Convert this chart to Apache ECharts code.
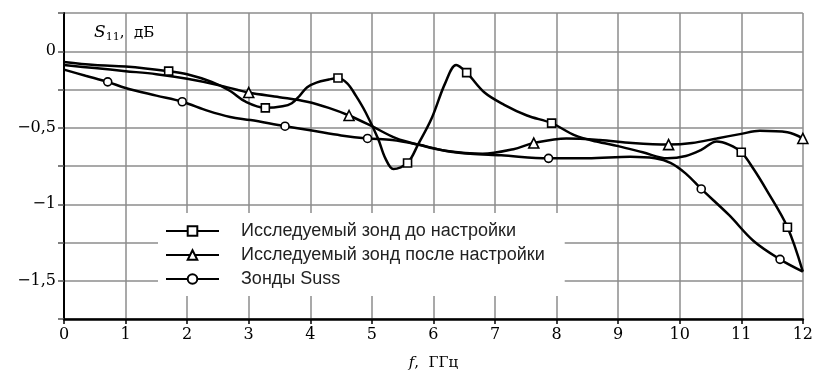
<!DOCTYPE html>
<html>
<head>
<meta charset="utf-8">
<script src="https://cdn.jsdelivr.net/npm/echarts@6/dist/echarts.min.js"></script>
<style>html,body{margin:0;padding:0;background:#fff;}#c{width:816px;height:376px;}</style>
</head>
<body>
<div id="c"></div>
<script>
// Series 1: Исследуемый зонд до настройки (squares)
const f1 = [0, 0.5, 1.0, 1.7, 2.0, 2.4, 2.7, 2.95, 3.27, 3.55, 3.7, 3.83, 3.95, 4.1, 4.3, 4.45, 4.6, 4.74, 4.9, 5.1, 5.22, 5.35, 5.58, 5.75, 5.97, 6.19, 6.37, 6.54, 6.83, 7.15, 7.52, 7.92, 8.3, 8.65, 9.0, 9.4, 9.8, 10.1, 10.35, 10.6, 10.8, 11.0, 11.2, 11.4, 11.75, 12];
const v1 = [-0.07, -0.09, -0.10, -0.13, -0.15, -0.20, -0.26, -0.33, -0.37, -0.36, -0.34, -0.29, -0.235, -0.205, -0.185, -0.175, -0.21, -0.29, -0.40, -0.57, -0.70, -0.77, -0.73, -0.61, -0.44, -0.21, -0.09, -0.14, -0.27, -0.35, -0.42, -0.47, -0.55, -0.59, -0.62, -0.66, -0.70, -0.685, -0.645, -0.59, -0.61, -0.66, -0.77, -0.90, -1.15, -1.44];
const m1 = [1.7, 3.27, 4.45, 5.58, 6.54, 7.92, 11.0, 11.75];

// Series 2: Исследуемый зонд после настройки (triangles)
const f2 = [0, 0.5, 1.0, 1.5, 2.0, 2.5, 3.0, 3.5, 3.95, 4.3, 4.63, 5.0, 5.4, 5.75, 6.19, 6.8, 7.3, 7.63, 8.16, 8.7, 9.23, 9.82, 10.2, 10.6, 11.0, 11.3, 11.75, 12];
const v2 = [-0.09, -0.11, -0.13, -0.15, -0.18, -0.22, -0.27, -0.30, -0.33, -0.37, -0.42, -0.49, -0.57, -0.61, -0.65, -0.67, -0.64, -0.60, -0.57, -0.58, -0.60, -0.61, -0.60, -0.57, -0.54, -0.52, -0.53, -0.57];
const m2 = [3.0, 4.63, 7.63, 9.82, 12];

// Series 3: Зонды Suss (circles)
const f3 = [0, 0.35, 0.71, 1.0, 1.5, 1.92, 2.34, 2.7, 3.03, 3.59, 4.05, 4.5, 4.93, 5.33, 5.75, 6.19, 6.6, 7.1, 7.87, 8.5, 9.2, 9.6, 9.85, 10.1, 10.35, 10.8, 11.2, 11.63, 12];
const v3 = [-0.12, -0.16, -0.20, -0.24, -0.29, -0.33, -0.39, -0.43, -0.45, -0.49, -0.52, -0.55, -0.57, -0.58, -0.61, -0.65, -0.67, -0.68, -0.70, -0.70, -0.69, -0.70, -0.73, -0.80, -0.90, -1.07, -1.24, -1.36, -1.44];
const m3 = [0.71, 1.92, 3.59, 4.93, 7.87, 10.35, 11.63];

const names = ['Исследуемый зонд до настройки', 'Исследуемый зонд после настройки', 'Зонды Suss'];

function build(f, v, m, sym) {
  return f.map((x, i) => ({ value: [x, v[i]], symbol: m.indexOf(x) >= 0 ? sym : 'none' }));
}

function mkSeries(name, f, v, m, sym, size) {
  return {
    name: name, type: 'line', smooth: 0.35,
    symbol: sym, symbolSize: size, showSymbol: true, showAllSymbol: true,
    data: build(f, v, m, sym),
    lineStyle: { color: '#000', width: 2.5 },
    itemStyle: { color: '#fff', borderColor: '#000', borderWidth: 1.6 },
    emphasis: { disabled: true },
    animation: false
  };
}

const serif = '"DejaVu Serif", serif';
const chart = echarts.init(document.getElementById('c'), null, { renderer: 'canvas' });
chart.setOption({
  animation: false,
  backgroundColor: '#fff',
  title: {
    left: 89, top: 18,
    text: '{s|S}{sub|11}{n|,  дБ}',
    textStyle: {
      fontWeight: 'normal',
      rich: {
        s: { fontFamily: serif, fontStyle: 'italic', fontWeight: 'normal', fontSize: 17, color: '#000' },
        sub: { fontFamily: serif, fontWeight: 'normal', fontSize: 11, color: '#000', padding: [9, 0, 0, 0] },
        n: { fontFamily: serif, fontWeight: 'normal', fontSize: 15, color: '#000' }
      }
    }
  },
  legend: {
    data: names,
    orient: 'vertical',
    left: 158, top: 213,
    padding: [9, 20, 8, 7],
    backgroundColor: '#fff',
    itemWidth: 53, itemHeight: 12, itemGap: 6,
    textStyle: { fontFamily: 'Liberation Sans', fontSize: 18, lineHeight: 15, color: '#222', padding: [0, 0, 0, 17] }
  },
  grid: { left: 64, right: 3, top: 13, bottom: 52 },
  xAxis: {
    type: 'value', min: 0, max: 12, interval: 1,
    name: '{f|f}{n|,  ГГц}', nameLocation: 'middle', nameGap: 37,
    nameTextStyle: {
      rich: {
        f: { fontFamily: serif, fontStyle: 'italic', fontSize: 15, color: '#000' },
        n: { fontFamily: serif, fontSize: 15, color: '#000' }
      }
    },
    axisLine: { show: true, onZero: false, lineStyle: { color: '#000', width: 2.5 } },
    axisTick: { show: true, length: 5, lineStyle: { color: '#000', width: 1.5 } },
    axisLabel: { fontFamily: serif, fontSize: 16, color: '#000', margin: 8 },
    splitLine: { show: true, lineStyle: { color: '#8c8c8c', width: 1.5 } }
  },
  yAxis: {
    type: 'value', min: -1.75, max: 0.25, interval: 0.25,
    axisLine: { show: true, lineStyle: { color: '#000', width: 2 } },
    axisTick: { show: true, length: 6, lineStyle: { color: '#555', width: 1.5 } },
    axisLabel: {
      fontFamily: serif, fontSize: 16, color: '#000', margin: 8,
      formatter: function (val) {
        const r = Math.round(val * 100) / 100;
        if (Math.abs(r * 2 - Math.round(r * 2)) > 1e-6 || r > 0.01) return '';
        if (r === 0) return '0';
        return '\u2212' + String(Math.abs(r)).replace('.', ',');
      }
    },
    splitLine: { show: true, lineStyle: { color: '#8c8c8c', width: 1.5 } }
  },
  series: [
    mkSeries(names[0], f1, v1, m1, 'rect', 8),
    mkSeries(names[1], f2, v2, m2, 'triangle', 10),
    mkSeries(names[2], f3, v3, m3, 'circle', 8)
  ]
});
</script>
</body>
</html>
